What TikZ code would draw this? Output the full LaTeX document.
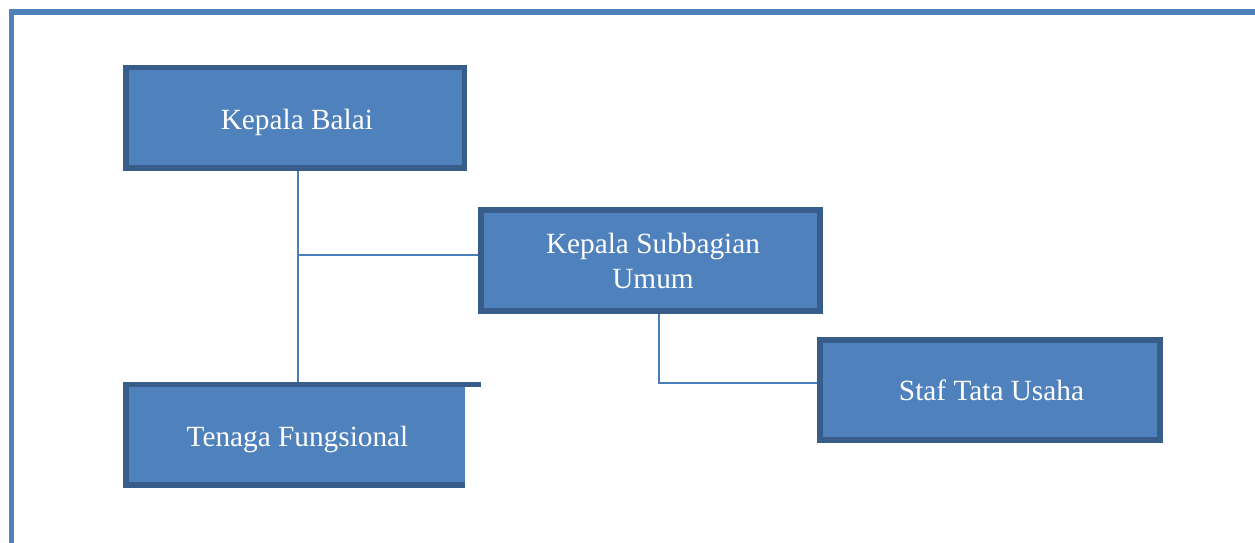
\documentclass[tikz,border=0pt]{standalone}
\usepackage{fontspec}
\setmainfont{Liberation Serif}
\definecolor{boxfill}{HTML}{4F81BD}
\definecolor{boxline}{HTML}{385D8A}
\definecolor{connc}{HTML}{4A7EBB}
\tikzset{
  orgbox/.style={draw=boxline, line width=5.5pt, fill=boxfill, inner sep=0pt, line join=miter},
  plainbox/.style={fill=boxfill, inner sep=0pt},
  boxtext/.style={text=white, font=\fontsize{29.3}{35}\selectfont, align=center, inner sep=0pt},
  borderline/.style={draw=boxline, line width=5.5pt, line join=miter},
  conn/.style={draw=connc, line width=2pt},
  frameline/.style={draw=boxfill, line width=5.5pt, line join=miter}
}
\begin{document}
\begin{tikzpicture}[x=1pt,y=-1pt]
\useasboundingbox (0,0) rectangle (1255,543);
\draw[frameline] (11.5,545) -- (11.5,12) -- (1257,12);
% node positions
\coordinate (kbc) at (295.35,117.75);
\coordinate (ksc) at (650.5,260.5);
\coordinate (stc) at (990,390);
\coordinate (tfc) at (295.5,434.75);
% invisible anchors
\node[minimum width=338.7pt, minimum height=100.5pt, inner sep=0pt] (kb) at (kbc) {};
\node[minimum width=339pt, minimum height=101pt, inner sep=0pt] (ks) at (ksc) {};
\node[minimum width=340pt, minimum height=100pt, inner sep=0pt] (st) at (stc) {};
\node[minimum width=339pt, minimum height=100.5pt, inner sep=0pt] (tf) at (tfc) {};
% connectors
\coordinate (j) at (298,255);
\draw[conn] ([xshift=2.6pt]kb.south) -- ([xshift=2.6pt]kb.south |- tf.north);
\draw[conn] (j) -- (ks.west |- j);
\draw[conn] ([xshift=8.5pt]ks.south) |- ([yshift=7pt]st.west);
% shadows
\fill[boxline] ([xshift=-2.5pt,yshift=-2.5pt]ks.south west) rectangle ([xshift=-2.5pt,yshift=-2.5pt]ks.north east);
\fill[boxline] ([xshift=2.5pt,yshift=-2.5pt]st.south west) rectangle ([xshift=2.5pt,yshift=-2.5pt]st.north east);
% boxes
\node[orgbox, minimum width=338.7pt, minimum height=100.5pt] (kbbox) at (kbc) {};
\node[orgbox, minimum width=339pt, minimum height=101pt] (ksbox) at (ksc) {};
\node[orgbox, minimum width=340pt, minimum height=100pt] (stbox) at (stc) {};
\node[plainbox, minimum width=339pt, minimum height=100.5pt] (tfbox) at (tfc) {};
\draw[borderline] (tfbox.south east) -- (tfbox.south west) -- (tfbox.north west) -- ([xshift=16pt]tfbox.north east);
% texts
\node[boxtext] (kbt) at ([xshift=1.5pt,yshift=-4.5pt]kbbox.center) {Kepala Balai};
\node[boxtext] (kst) at ([xshift=2.5pt,yshift=-0.5pt]ksbox.center) {Kepala Subbagian\\Umum};
\node[boxtext] (stt) at ([xshift=1.5pt,yshift=-0.5pt]stbox.center) {Staf Tata Usaha};
\node[boxtext] (tft) at ([xshift=2pt,yshift=-4.5pt]tfbox.center) {Tenaga Fungsional};
\end{tikzpicture}
\end{document}
